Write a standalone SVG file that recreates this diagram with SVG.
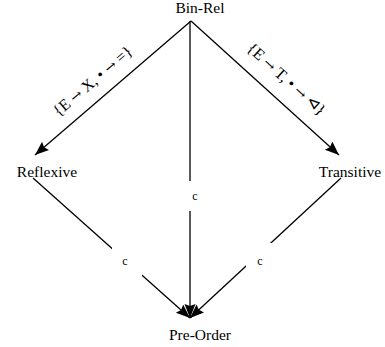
<svg xmlns="http://www.w3.org/2000/svg" width="385" height="347" viewBox="0 0 385 347">
<defs>
<marker id="arr" markerUnits="userSpaceOnUse" markerWidth="16" markerHeight="12" refX="14" refY="5.5" orient="auto">
<path d="M0,0 L14,5.5 L0,11 L2,5.5 z" fill="#000"/>
</marker>
<style>
.node text{font-family:"Liberation Serif","Times New Roman",serif;font-size:15.5px;fill:#000;text-anchor:middle}
.edge{stroke:#000;stroke-width:1.3;fill:none;marker-end:url(#arr)}
.lbl{font-family:"Liberation Serif","Times New Roman","DejaVu Serif",serif;font-size:16px;fill:#000;text-anchor:middle}
.ar{font-family:"DejaVu Serif",serif;font-size:14px}
.c{font-family:"Liberation Serif","Times New Roman",serif;font-size:12px;fill:#000;text-anchor:middle}
.bg{fill:#fff}
</style>
</defs>
<rect width="385" height="347" fill="#fff"/>
<g id="connectors">
<line class="edge" x1="191" y1="21" x2="35" y2="155"/>
<line class="edge" x1="191" y1="21" x2="339" y2="155"/>
<line class="edge" x1="190" y1="21" x2="190" y2="318"/>
<line class="edge" x1="33" y1="178" x2="190" y2="318"/>
<line class="edge" x1="341" y1="178" x2="190" y2="318"/>
<rect class="bg" x="112" y="247" width="30" height="29"/>
<rect class="bg" x="246" y="243" width="27" height="24"/>
<rect class="bg" x="182" y="181" width="26" height="30"/>
<text class="lbl" transform="translate(96,85) rotate(-40.5)">{E <tspan class="ar">→</tspan> X, • <tspan class="ar">→</tspan> =}</text>
<text class="lbl" transform="translate(283,83) rotate(42)">{E <tspan class="ar">→</tspan> T, • <tspan class="ar">→</tspan> ⊲}</text>
<text class="c" x="195" y="200">c</text>
<text class="c" x="125" y="265">c</text>
<text class="c" x="260" y="265">c</text>
</g>
<g id="bin-rel" class="node"><text x="200" y="13">Bin-Rel</text></g>
<g id="reflexive" class="node"><text x="47" y="177">Reflexive</text></g>
<g id="transitive" class="node"><text x="350" y="177">Transitive</text></g>
<g id="pre-order" class="node"><text x="200" y="340">Pre-Order</text></g>
</svg>
